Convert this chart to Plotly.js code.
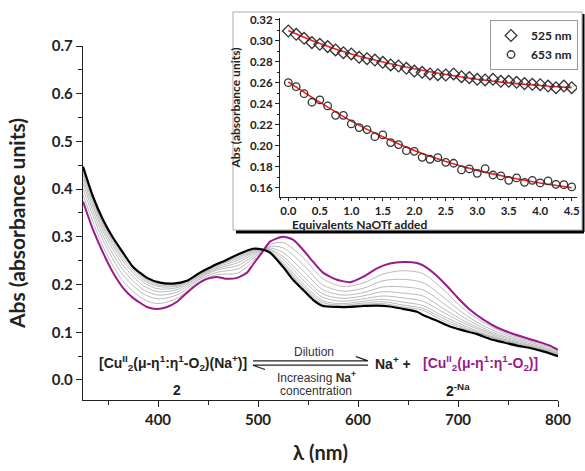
<!DOCTYPE html>
<html>
<head>
<meta charset="utf-8">
<script src="https://cdn.plot.ly/plotly-3.0.1.min.js"></script>
<style>html,body{margin:0;padding:0;background:#fff;}#chart{width:585px;height:471px;}</style>
</head>
<body>
<div id="chart"></div>
<script>
// ---- Main spectra ----
const blackWl = [325,335,345,355,365,375,389,402,415,429,442,455,469,482,495,505,512,525,535,545,555,565,579,592,605,619,632,645,659,665,679,692,705,719,732,745,759,772,785,800];
const blackAbs = [0.447,0.384,0.336,0.298,0.267,0.237,0.214,0.204,0.202,0.208,0.225,0.239,0.252,0.265,0.275,0.273,0.267,0.237,0.210,0.189,0.168,0.155,0.153,0.153,0.155,0.156,0.154,0.149,0.143,0.136,0.124,0.112,0.104,0.096,0.086,0.079,0.072,0.067,0.060,0.050];
const magentaWl = [325,335,345,355,365,375,389,399,409,419,429,439,449,459,469,479,489,495,504,512,525,535,545,555,565,579,592,605,619,632,645,659,665,679,689,699,712,725,739,752,765,779,792,800];
const magentaAbs = [0.374,0.315,0.267,0.225,0.193,0.172,0.153,0.149,0.153,0.164,0.183,0.200,0.212,0.216,0.212,0.214,0.225,0.242,0.267,0.290,0.300,0.294,0.273,0.248,0.225,0.210,0.205,0.216,0.234,0.244,0.247,0.245,0.240,0.218,0.197,0.174,0.147,0.127,0.110,0.099,0.090,0.081,0.072,0.063];
const grayWl = [325,345,365,385,400,420,440,460,480,500,510,525,545,565,585,605,625,645,665,685,705,725,745,765,785,800];
const gray1 = [0.388,0.280,0.207,0.170,0.160,0.172,0.205,0.221,0.224,0.259,0.282,0.288,0.257,0.212,0.196,0.203,0.222,0.229,0.223,0.190,0.150,0.121,0.100,0.086,0.074,0.061];
const gray2 = [0.401,0.293,0.220,0.181,0.170,0.179,0.209,0.226,0.233,0.263,0.279,0.277,0.242,0.199,0.186,0.192,0.208,0.211,0.204,0.174,0.140,0.114,0.096,0.083,0.071,0.058];
const gray3 = [0.412,0.303,0.231,0.190,0.178,0.185,0.212,0.231,0.240,0.266,0.277,0.267,0.229,0.189,0.178,0.183,0.195,0.195,0.189,0.161,0.132,0.109,0.092,0.080,0.068,0.056];
const gray4 = [0.421,0.312,0.241,0.198,0.185,0.190,0.215,0.234,0.246,0.269,0.275,0.259,0.218,0.180,0.171,0.176,0.185,0.182,0.176,0.150,0.125,0.105,0.089,0.077,0.066,0.055];
const gray5 = [0.429,0.319,0.249,0.205,0.191,0.194,0.217,0.237,0.251,0.271,0.274,0.253,0.210,0.173,0.165,0.170,0.176,0.172,0.165,0.142,0.120,0.102,0.086,0.075,0.064,0.053];
const gray6 = [0.435,0.325,0.255,0.210,0.196,0.197,0.219,0.240,0.255,0.273,0.272,0.247,0.202,0.166,0.160,0.165,0.169,0.163,0.156,0.134,0.115,0.098,0.084,0.073,0.063,0.052];
const gray7 = [0.440,0.329,0.260,0.214,0.199,0.199,0.220,0.241,0.258,0.274,0.272,0.243,0.197,0.162,0.157,0.161,0.164,0.157,0.150,0.129,0.111,0.096,0.083,0.072,0.062,0.051];
const gray8 = [0.444,0.333,0.264,0.217,0.202,0.201,0.221,0.243,0.261,0.275,0.271,0.240,0.193,0.158,0.154,0.158,0.160,0.153,0.146,0.124,0.108,0.095,0.081,0.071,0.061,0.051];
const graySeries = [gray1,gray2,gray3,gray4,gray5,gray6,gray7,gray8];

// ---- Inset data ----
const equiv = [0,0.125,0.25,0.375,0.5,0.625,0.75,0.875,1.0,1.125,1.25,1.375,1.5,1.625,1.75,1.875,2.0,2.125,2.25,2.375,2.5,2.625,2.75,2.875,3.0,3.125,3.25,3.375,3.5,3.625,3.75,3.875,4.0,4.125,4.25,4.375,4.5];
const abs525 = [0.3095,0.3063,0.3025,0.2984,0.2968,0.2946,0.2914,0.2888,0.2876,0.2844,0.2831,0.2818,0.2796,0.2771,0.2761,0.2739,0.2713,0.2701,0.2685,0.2678,0.2675,0.2685,0.2659,0.2650,0.2634,0.2628,0.2634,0.2615,0.2615,0.2605,0.2593,0.2586,0.2583,0.2570,0.2554,0.2570,0.2554];
const abs653 = [0.2602,0.2564,0.2497,0.2415,0.2437,0.2380,0.2290,0.2290,0.2208,0.2173,0.2154,0.2087,0.2103,0.2030,0.2011,0.1953,0.1947,0.1890,0.1871,0.1887,0.1842,0.1833,0.1769,0.1779,0.1737,0.1782,0.1721,0.1712,0.1670,0.1693,0.1651,0.1670,0.1645,0.1664,0.1632,0.1629,0.1607];
const fitEquiv = [0,0.5,1.0,1.5,2.0,2.5,3.0,3.5,4.0,4.5];
const fit525 = [0.3100,0.2975,0.2875,0.2800,0.2735,0.2680,0.2635,0.2600,0.2575,0.2555];
const fit653 = [0.2610,0.2415,0.2235,0.2085,0.1955,0.1850,0.1765,0.1700,0.1645,0.1600];

const MAG = '#9a1a8c';
const traces = [];
graySeries.forEach(g => traces.push({x: grayWl, y: g, type:'scatter', mode:'lines', line:{color:'#a8a8a8', width:0.8, shape:'spline', smoothing:0.8}, showlegend:false, hoverinfo:'skip'}));
traces.push({x: magentaWl, y: magentaAbs, type:'scatter', mode:'lines', line:{color:MAG, width:2, shape:'spline', smoothing:0.6}, showlegend:false});
traces.push({x: blackWl, y: blackAbs, type:'scatter', mode:'lines', line:{color:'#000', width:2.2, shape:'spline', smoothing:0.6}, showlegend:false});

traces.push({x: fitEquiv, y: fit525, xaxis:'x2', yaxis:'y2', type:'scatter', mode:'lines', line:{color:'#ff1a1a', width:1.6, shape:'spline'}, showlegend:false});
traces.push({x: fitEquiv, y: fit653, xaxis:'x2', yaxis:'y2', type:'scatter', mode:'lines', line:{color:'#ff1a1a', width:1.6, shape:'spline'}, showlegend:false});
traces.push({x: equiv, y: abs525, xaxis:'x2', yaxis:'y2', type:'scatter', mode:'markers', name:'525 nm', marker:{symbol:'diamond-open', size:9, color:'#333', line:{width:1.3, color:'#333'}}});
traces.push({x: equiv, y: abs653, xaxis:'x2', yaxis:'y2', type:'scatter', mode:'markers', name:'653 nm', marker:{symbol:'circle-open', size:7.5, color:'#333', line:{width:1.3, color:'#333'}}});

const tickF = {family:'Lato, "Open Sans", sans-serif', size:15, color:'#222', weight:'bold'};
const insetF = {family:'Lato, "Open Sans", sans-serif', size:12, color:'#222', weight:'bold'};
const insetTickF = {family:'Lato, "Open Sans", sans-serif', size:11.5, color:'#222', weight:'bold'};
const annF = {family:'"Liberation Sans", Arial, sans-serif', size:14, color:'#222'};

function px2x(px){ return (px-83)/497; }
function py2y(py){ return (400-py)/390; }

const layout = {
  width:585, height:471,
  margin:{l:83, r:5, t:10, b:71, autoexpand:false},
  paper_bgcolor:'#fff', plot_bgcolor:'rgba(0,0,0,0)',
  xaxis:{domain:[0, 475/497], range:[325,800], automargin:false, showline:true, linecolor:'#222', linewidth:1.2, ticks:'outside', ticklen:6, tickcolor:'#222', dtick:100, tick0:0, showgrid:false, zeroline:false, tickfont:tickF,
    minor:{dtick:50, ticks:'outside', ticklen:4, tickcolor:'#222'},
    title:{text:'λ (nm)', font:{family:'Lato, "Open Sans", sans-serif', size:20, color:'#222', weight:'bold'}, standoff:18}},
  yaxis:{domain:[0, 354/390], range:[-0.042,0.7], automargin:false, showline:true, linecolor:'#222', linewidth:1.2, ticks:'outside', ticklen:6, tickcolor:'#222', dtick:0.1, tick0:0, tickformat:'.1f', showgrid:false, zeroline:false, tickfont:tickF,
    minor:{dtick:0.05, ticks:'outside', ticklen:4, tickcolor:'#222'},
    title:{text:'Abs (absorbance units)', font:{family:'Lato, "Open Sans", sans-serif', size:21, color:'#222', weight:'bold'}, standoff:20}},
  xaxis2:{domain:[px2x(280), px2x(577)], anchor:'y2', range:[-0.132,4.584], automargin:false, showline:true, linecolor:'#222', linewidth:1, ticks:'outside', ticklen:3, tickcolor:'#222', dtick:0.5, tick0:0, tickformat:'.1f', showgrid:false, zeroline:false, tickfont:insetTickF,
    minor:{dtick:0.125, ticks:'outside', ticklen:2, tickcolor:'#222'}},
  yaxis2:{domain:[py2y(197), py2y(18)], anchor:'x2', range:[0.1511,0.3219], automargin:false, showline:true, linecolor:'#222', linewidth:1, ticks:'outside', ticklen:4, tickcolor:'#222', dtick:0.02, tick0:0, tickformat:'.2f', showgrid:false, zeroline:false, tickfont:insetTickF,
    minor:{dtick:0.01, ticks:'outside', ticklen:2, tickcolor:'#222'},
    title:{text:'Abs (absorbance units)', font:insetF, standoff:6}},
  legend:{x:px2x(578), y:py2y(20), xanchor:'right', yanchor:'top', bgcolor:'#fff', bordercolor:'#999', borderwidth:1, font:insetF, tracegroupgap:0, itemwidth:30},
  shapes:[
    {type:'rect', xref:'paper', yref:'paper', x0:px2x(233), x1:px2x(582), y0:py2y(230), y1:py2y(12), line:{color:'#aaa', width:1}, fillcolor:'#fff', layer:'below'},
    {type:'line', xref:'paper', yref:'paper', x0:px2x(236), x1:px2x(584), y0:py2y(232), y1:py2y(232), line:{color:'#000', width:3}, layer:'below'},
    {type:'line', xref:'paper', yref:'paper', x0:px2x(583.5), x1:px2x(583.5), y0:py2y(232), y1:py2y(14), line:{color:'#000', width:2}, layer:'below'},
    {type:'path', xref:'x', yref:'y', path:'M 495,0.040 L 610,0.040 L 598,0.049', line:{color:'#222', width:1.2}},
    {type:'path', xref:'x', yref:'y', path:'M 610,0.031 L 495,0.031 L 507,0.022', line:{color:'#222', width:1.2}}
  ],
  annotations:[
    {x:(px2x(280)+px2x(577))/2, y:py2y(224), xref:'paper', yref:'paper', showarrow:false, text:'Equivalents NaOTf added', font:insetF, yanchor:'middle'},
    {x:415, y:0.036, xref:'x', yref:'y', showarrow:false, text:'<b>[Cu<sup>II</sup><sub>2</sub>(μ-η<sup>1</sup>:η<sup>1</sup>-O<sub>2</sub>)(Na<sup>+</sup>)]</b>', font:annF},
    {x:419, y:-0.022, xref:'x', yref:'y', showarrow:false, text:'<b>2</b>', font:annF},
    {x:556, y:0.058, xref:'x', yref:'y', showarrow:false, text:'Dilution', font:{family:annF.family, size:12, color:'#333'}},
    {x:558, y:0.007, xref:'x', yref:'y', showarrow:false, text:'Increasing <b>Na<sup>+</sup></b>', font:{family:annF.family, size:12, color:'#333'}},
    {x:558, y:-0.023, xref:'x', yref:'y', showarrow:false, text:'concentration', font:{family:annF.family, size:12, color:'#333'}},
    {x:635, y:0.036, xref:'x', yref:'y', showarrow:false, text:'<b>Na<sup>+</sup> +</b>', font:annF},
    {x:722, y:0.036, xref:'x', yref:'y', showarrow:false, text:'<b>[Cu<sup>II</sup><sub>2</sub>(μ-η<sup>1</sup>:η<sup>1</sup>-O<sub>2</sub>)]</b>', font:{family:annF.family, size:14, color:MAG}},
    {x:700, y:-0.022, xref:'x', yref:'y', showarrow:false, text:'<b>2<sup>-Na</sup></b>', font:annF}
  ]
};

Plotly.newPlot('chart', traces, layout, {displayModeBar:false, staticPlot:true});
</script>
</body>
</html>
